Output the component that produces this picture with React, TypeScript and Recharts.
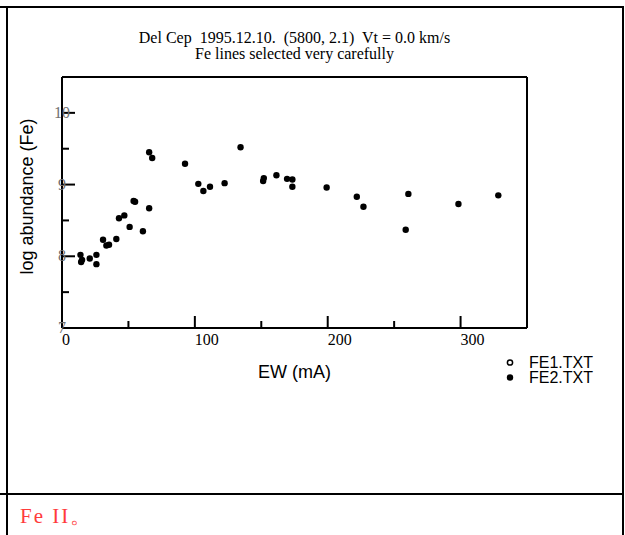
import { Label, Legend, Scatter, ScatterChart, XAxis, YAxis } from "recharts";

const TITLE_1 = "Del Cep  1995.12.10.  (5800, 2.1)  Vt = 0.0 km/s";
const TITLE_2 = "Fe lines selected very carefully";

const X_TICKS = [0, 50, 100, 150, 200, 250, 300, 350];
const X_MAJOR = [0, 100, 200, 300];
const Y_TICKS = [7, 7.5, 8, 8.5, 9, 9.5, 10];
const Y_MAJOR = [7, 8, 9, 10];

// FE1.TXT: no points visible in the plot, only in the legend
const FE1_EW: number[] = [];
const FE1_ABUND: number[] = [];

// FE2.TXT
const FE2_EW = [
  13.9, 14.4, 15.1, 20.9, 25.9, 25.9, 30.9, 33.4, 35.4, 40.9, 42.9, 46.9, 50.9,
  53.9, 55.0, 60.9, 65.6, 67.9, 65.6, 92.6, 102.6, 106.4, 111.4, 122.4, 134.4,
  151.4, 151.9, 161.4, 169.4, 173.4, 173.4, 199.2, 221.9, 226.9, 258.7, 260.7,
  298.4, 328.4,
];
const FE2_ABUND = [
  8.02, 7.92, 7.95, 7.97, 8.02, 7.89, 8.23, 8.15, 8.16, 8.24, 8.53, 8.57, 8.41,
  8.77, 8.76, 8.35, 9.45, 9.37, 8.67, 9.29, 9.01, 8.91, 8.97, 9.02, 9.52, 9.05,
  9.09, 9.13, 9.08, 9.07, 8.97, 8.96, 8.83, 8.69, 8.37, 8.87, 8.73, 8.85,
];

const SERIF = "'Liberation Serif', 'Times New Roman', serif";
const SANS = "'Liberation Sans', Arial, sans-serif";

const toRows = (xs: number[], ys: number[]) => xs.map((ew, i) => ({ ew, abund: ys[i] }));

const BottomTick = ({ x, y, payload }: any) => {
  const major = X_MAJOR.includes(payload.value);
  return (
    <g>
      <line x1={x} y1={y} x2={x} y2={y - (major ? 12 : 7)} stroke="#000" strokeWidth={2} />
      {major && (
        <text x={x} y={y + 17} textAnchor="start" fontFamily={SERIF} fontSize={16} fill="#000">
          {payload.value}
        </text>
      )}
    </g>
  );
};

const TopTick = ({ x, y, payload }: any) => {
  const major = X_MAJOR.includes(payload.value);
  return <line x1={x} y1={y} x2={x} y2={y + (major ? 12 : 7)} stroke="#000" strokeWidth={2} />;
};

const LeftTick = ({ x, y, payload }: any) => {
  const major = Y_MAJOR.includes(payload.value);
  return (
    <g>
      <line x1={x} y1={y} x2={x + (major ? 13 : 7)} y2={y} stroke="#000" strokeWidth={2} />
      {major && (
        <text x={x} y={y + 5} textAnchor="middle" fontFamily={SERIF} fontSize={16} fill="#707070">
          {payload.value}
        </text>
      )}
    </g>
  );
};

const RightTick = ({ x, y, payload }: any) => {
  const major = Y_MAJOR.includes(payload.value);
  return <line x1={x} y1={y} x2={x - (major ? 13 : 7)} y2={y} stroke="#000" strokeWidth={2} />;
};

const Dot = ({ cx, cy }: any) => <circle cx={cx} cy={cy} r={3.2} fill="#000" />;
const OpenDot = ({ cx, cy }: any) => (
  <circle cx={cx} cy={cy} r={2.6} fill="#fff" stroke="#000" strokeWidth={1.5} />
);

const LegendBox = ({ payload }: any) => (
  <div style={{ fontFamily: SANS, fontSize: 16, lineHeight: "15px", color: "#000" }}>
    {(payload || []).map((p: any) => (
      <div key={p.value} style={{ display: "flex", alignItems: "center", height: 15 }}>
        <svg width={14} height={15}>
          {p.value === "FE1.TXT" ? (
            <circle cx={5} cy={7.5} r={2.6} fill="#fff" stroke="#000" strokeWidth={1.5} />
          ) : (
            <circle cx={5} cy={7.5} r={3.2} fill="#000" />
          )}
        </svg>
        <span style={{ marginLeft: 10 }}>{p.value}</span>
      </div>
    ))}
  </div>
);

const line = (style: any) => <div style={{ position: "absolute", background: "#000", ...style }} />;

export default function App() {
  const fe1 = toRows(FE1_EW, FE1_ABUND);
  const fe2 = toRows(FE2_EW, FE2_ABUND);

  return (
    <div
      style={{
        position: "absolute",
        left: 0,
        top: 0,
        width: 625,
        height: 535,
        background: "#fff",
        overflow: "hidden",
      }}
    >
      {line({ left: 0, top: 5.5, width: 623.5, height: 2 })}
      {line({ left: 5.5, top: 5.5, width: 2, height: 530 })}
      {line({ left: 621.5, top: 5.5, width: 2, height: 530 })}
      {line({ left: 0, top: 492.5, width: 623.5, height: 2 })}

      <div style={{ position: "absolute", left: 0, top: 0 }}>
        <ScatterChart width={625} height={490} margin={{ top: 76, right: 97, bottom: 161, left: 61 }}>
          <XAxis
            xAxisId="b"
            dataKey="ew"
            type="number"
            domain={[0, 350]}
            ticks={X_TICKS}
            height={1}
            tickSize={0}
            tickMargin={0}
            tick={BottomTick}
            axisLine={{ stroke: "#000", strokeWidth: 2 }}
          >
            <Label
              content={({ viewBox }: any) => (
                <text
                  x={viewBox.x + viewBox.width / 2}
                  y={viewBox.y + 50}
                  textAnchor="middle"
                  fontFamily={SANS}
                  fontSize={18}
                  fill="#000"
                >
                  EW (mA)
                </text>
              )}
            />
          </XAxis>
          <XAxis
            xAxisId="t"
            orientation="top"
            type="number"
            domain={[0, 350]}
            ticks={X_TICKS}
            height={1}
            tickSize={0}
            tickMargin={0}
            tick={TopTick}
            axisLine={{ stroke: "#000", strokeWidth: 2 }}
          >
            <Label
              content={({ viewBox }: any) => (
                <g fontFamily={SERIF} fontSize={16} fill="#000" textAnchor="middle">
                  <text x={viewBox.x + viewBox.width / 2} y={viewBox.y - 33} style={{ whiteSpace: "pre" }}>
                    {TITLE_1}
                  </text>
                  <text x={viewBox.x + viewBox.width / 2} y={viewBox.y - 17} style={{ whiteSpace: "pre" }}>
                    {TITLE_2}
                  </text>
                </g>
              )}
            />
          </XAxis>
          <YAxis
            yAxisId="l"
            dataKey="abund"
            type="number"
            domain={[7, 10.5]}
            ticks={Y_TICKS}
            width={1}
            tickSize={0}
            tickMargin={0}
            tick={LeftTick}
            axisLine={{ stroke: "#000", strokeWidth: 2 }}
          >
            <Label
              content={({ viewBox }: any) => {
                const cx = viewBox.x + viewBox.width - 29;
                const cy = viewBox.y + viewBox.height / 2 - 6;
                return (
                  <text
                    x={cx}
                    y={cy}
                    transform={`rotate(-90 ${cx} ${cy})`}
                    textAnchor="middle"
                    fontFamily={SANS}
                    fontSize={18}
                    fill="#000"
                  >
                    log abundance (Fe)
                  </text>
                );
              }}
            />
          </YAxis>
          <YAxis
            yAxisId="r"
            orientation="right"
            type="number"
            domain={[7, 10.5]}
            ticks={Y_TICKS}
            width={1}
            tickSize={0}
            tickMargin={0}
            tick={RightTick}
            axisLine={{ stroke: "#000", strokeWidth: 2 }}
          />
          <Legend
            layout="vertical"
            align="center"
            verticalAlign="middle"
            content={LegendBox}
            wrapperStyle={{ position: "absolute", left: 505, top: 355, width: 115, bottom: "auto" }}
          />
          <Scatter
            name="FE1.TXT"
            data={fe1}
            xAxisId="b"
            yAxisId="l"
            shape={OpenDot}
            isAnimationActive={false}
          />
          <Scatter
            name="FE2.TXT"
            data={fe2}
            xAxisId="b"
            yAxisId="l"
            shape={Dot}
            isAnimationActive={false}
          />
        </ScatterChart>
      </div>

      <div
        style={{
          position: "absolute",
          left: 20,
          top: 502,
          fontFamily: SERIF,
          fontSize: 21,
          letterSpacing: 2,
          color: "#ff3b3b",
          whiteSpace: "pre",
        }}
      >
        Fe II。
      </div>
    </div>
  );
}
